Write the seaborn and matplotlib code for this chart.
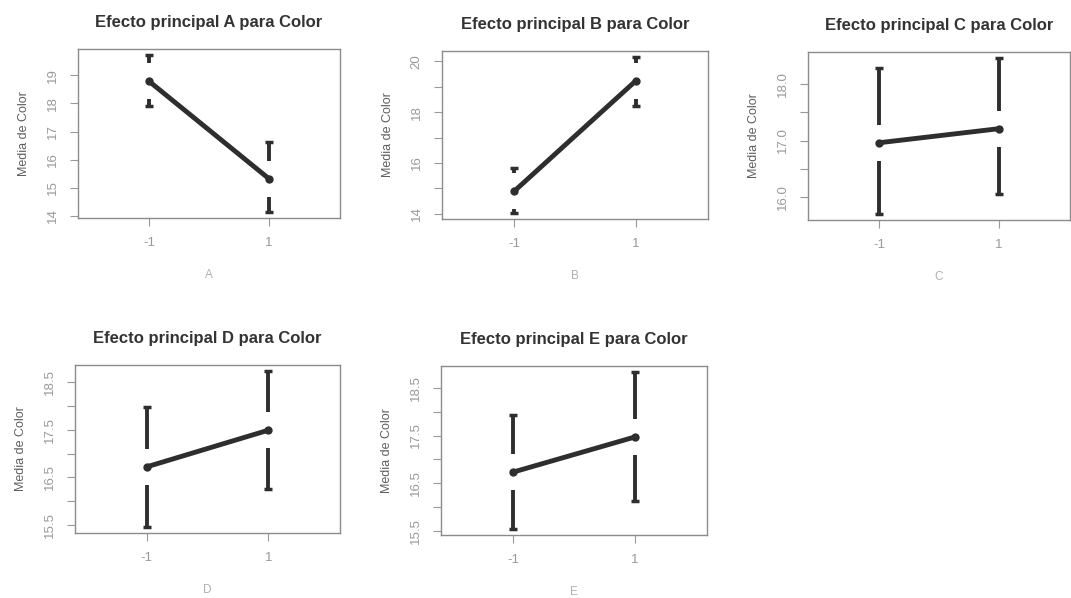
import pandas as pd
import matplotlib.pyplot as plt
import seaborn as sns

#==================
# Data
#==================
levels = ["-1", "1"]
factors = ["A", "B", "C", "D", "E"]

A_mean = [18.79, 15.32]
A_low = [17.90, 14.15]
A_up = [19.71, 16.64]

B_mean = [14.88, 19.24]
B_low = [14.04, 18.24]
B_up = [15.80, 20.16]

C_mean = [16.96, 17.21]
C_low = [15.70, 16.05]
C_up = [18.29, 18.46]

D_mean = [16.72, 17.49]
D_low = [15.46, 16.26]
D_up = [17.97, 18.73]

E_mean = [16.73, 17.47]
E_low = [15.54, 16.12]
E_up = [17.93, 18.83]

A_ticks = [14, 15, 16, 17, 18, 19]
A_ticklabels = ["14", "15", "16", "17", "18", "19"]
B_ticks = [14, 15, 16, 17, 18, 19, 20]
B_ticklabels = ["14", "", "16", "", "18", "", "20"]
C_ticks = [16.0, 16.5, 17.0, 17.5, 18.0]
C_ticklabels = ["16.0", "", "17.0", "", "18.0"]
D_ticks = [15.5, 16.0, 16.5, 17.0, 17.5, 18.0, 18.5]
D_ticklabels = ["15.5", "", "16.5", "", "17.5", "", "18.5"]
E_ticks = D_ticks
E_ticklabels = D_ticklabels

series = {
    "A": (A_mean, A_low, A_up, A_ticks, A_ticklabels),
    "B": (B_mean, B_low, B_up, B_ticks, B_ticklabels),
    "C": (C_mean, C_low, C_up, C_ticks, C_ticklabels),
    "D": (D_mean, D_low, D_up, D_ticks, D_ticklabels),
    "E": (E_mean, E_low, E_up, E_ticks, E_ticklabels),
}

#==================
# Layout (pixel boxes of each panel)
#==================
W, H = 1071, 598
boxes = {
    "A": (78, 49, 340, 218),
    "B": (442, 51, 708, 219),
    "C": (808, 52, 1070, 220),
    "D": (75, 365, 340, 533),
    "E": (441, 366, 707, 535),
}

sns.set_theme(style="white")
plt.rcParams["font.family"] = ["Liberation Sans", "DejaVu Sans"]

fig = plt.figure(figsize=(W / 100, H / 100), dpi=100)

line_col = "#2e2e2e"
gap_px = 18

for f in factors:
    means, low, up, ticks, ticklabels = series[f]
    x0, y0, x1, y1 = boxes[f]
    ax = fig.add_axes([x0 / W, 1 - y1 / H, (x1 - x0) / W, (y1 - y0) / H])

    df = pd.DataFrame({"x": [0, 1], "mean": means, "low": low, "up": up})

    # R style limits: range of the intervals, extended by 4 %
    span = max(up) - min(low)
    ymin = min(low) - 0.04 * span
    ymax = max(up) + 0.04 * span
    ax.set_ylim(ymin, ymax)
    ax.set_xlim(-0.59, 1.59)

    sns.lineplot(
        data=df, x="x", y="mean", ax=ax,
        color=line_col, linewidth=3.5,
        marker="o", markersize=6, markeredgewidth=0
    )

    # interval bars with a gap round the mean
    gap = gap_px / (y1 - y0) * (ymax - ymin)
    for _, r in df.iterrows():
        if r["up"] > r["mean"] + gap:
            ax.vlines(r["x"], r["mean"] + gap, r["up"], color=line_col, lw=2.8)
        if r["low"] < r["mean"] - gap:
            ax.vlines(r["x"], r["low"], r["mean"] - gap, color=line_col, lw=2.8)
        ax.plot([r["x"], r["x"]], [r["up"], r["low"]], ls="none",
                marker="_", markersize=6, markeredgewidth=2.5, color=line_col)

    ax.set_xticks([0, 1])
    ax.set_xticklabels(levels)
    ax.set_yticks(ticks)
    ax.set_yticklabels(ticklabels, rotation=90, va="center")
    ax.tick_params(axis="both", length=6, width=0.8, color="#999999",
                   labelsize=9.5, labelcolor="#999999", pad=8, left=True, bottom=True)

    ax.set_xlabel(f, fontsize=8.5, color="#b0b0b0", labelpad=14)
    ax.set_ylabel("Media de Color", fontsize=9, color="#5e5e5e", labelpad=12)
    ax.set_title(f"Efecto principal {f} para Color", fontsize=12,
                 fontweight="bold", color="#333333", pad=16)

    for s in ax.spines.values():
        s.set_color("#8c8c8c")
        s.set_linewidth(1.0)

plt.savefig("out.png", dpi=100)
